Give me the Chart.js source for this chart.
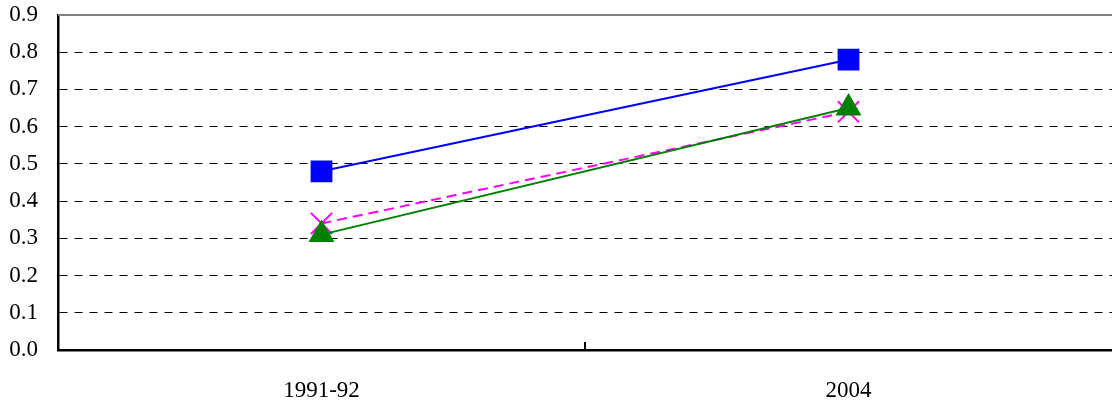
<!DOCTYPE html>
<html>
<head>
<meta charset="utf-8">
<script src="https://cdn.jsdelivr.net/npm/chart.js@4/dist/chart.umd.min.js"></script>
<style>
  html, body { margin: 0; padding: 0; background: #fff; overflow: hidden; }
  #wrap { width: 1112px; height: 407px; }
  canvas { display: block; }
</style>
</head>
<body>
<div id="wrap"><canvas id="chart"></canvas></div>
<script>
const categories = ['1991-92', '2004'];
const seriesBlue = [0.48, 0.78];
const seriesMagenta = [0.34, 0.64];
const seriesGreen = [0.31, 0.65];
const yTicks = [0, 0.1, 0.2, 0.3, 0.4, 0.5, 0.6, 0.7, 0.8, 0.9];

const FONT = 'Liberation Serif, Times New Roman, serif';

// top frame line + inward tick on the x axis between the categories
const framePlugin = {
  id: 'frame',
  afterDraw(chart){
    const {ctx, chartArea: a, scales: {x, y}} = chart;
    ctx.save();
    ctx.strokeStyle = '#808080'; ctx.lineWidth = 2;
    const yt = y.getPixelForValue(0.9);
    ctx.beginPath(); ctx.moveTo(a.left, yt); ctx.lineTo(a.right, yt); ctx.stroke();
    ctx.strokeStyle = '#000'; ctx.lineWidth = 2;
    const xm = (x.getPixelForTick(0) + x.getPixelForTick(1)) / 2;
    ctx.beginPath(); ctx.moveTo(xm, a.bottom); ctx.lineTo(xm, a.bottom - 8); ctx.stroke();
    ctx.restore();
  }
};

new Chart(document.getElementById('chart'), {
  type: 'line',
  data: {
    labels: categories,
    datasets: [
      {data: seriesBlue, borderColor: '#0000ff', backgroundColor: '#0000ff', borderWidth: 2,
       pointStyle: 'rect', pointRadius: 14, pointHoverRadius: 14, order: 3},
      {data: seriesMagenta, borderColor: '#ff00ff', backgroundColor: '#ff00ff', borderWidth: 2,
       borderDash: [10, 6], pointStyle: 'crossRot', pointRadius: 15, pointBorderWidth: 2, order: 2},
      {data: seriesGreen, borderColor: '#008000', backgroundColor: '#008000', borderWidth: 2,
       pointStyle: 'triangle', pointRadius: 13, pointHoverRadius: 13, order: 1}
    ]
  },
  options: {
    responsive: true,
    maintainAspectRatio: false,
    animation: false,
    layout: {autoPadding: false, padding: {top: 15, right: 0, left: 0, bottom: 0}},
    plugins: {legend: {display: false}, tooltip: {enabled: false}},
    scales: {
      x: {
        offset: true,
        grid: {display: false, drawTicks: false},
        border: {display: true, color: '#000', width: 2.5},
        ticks: {color: '#000', font: {family: FONT, size: 23}, padding: 27},
        afterFit: s => { s.height = 57; s.paddingLeft = 0; s.paddingRight = 0; }
      },
      y: {
        min: 0, max: 0.9,
        afterBuildTicks: s => { s.ticks = yTicks.map(v => ({value: v})); },
        grid: {
          color: c => (c.tick.value === 0 || c.tick.value === 0.9) ? 'rgba(0,0,0,0)' : '#000',
          lineWidth: 1, drawTicks: false
        },
        border: {display: true, color: '#000', width: 2.5, dash: [8, 7]},
        ticks: {color: '#000', font: {family: FONT, size: 23}, padding: 20,
                callback: v => Number(v).toFixed(1)},
        afterFit: s => { s.width = 58; s.paddingTop = 0; s.paddingBottom = 0; }
      }
    }
  },
  plugins: [framePlugin]
});
</script>
</body>
</html>
